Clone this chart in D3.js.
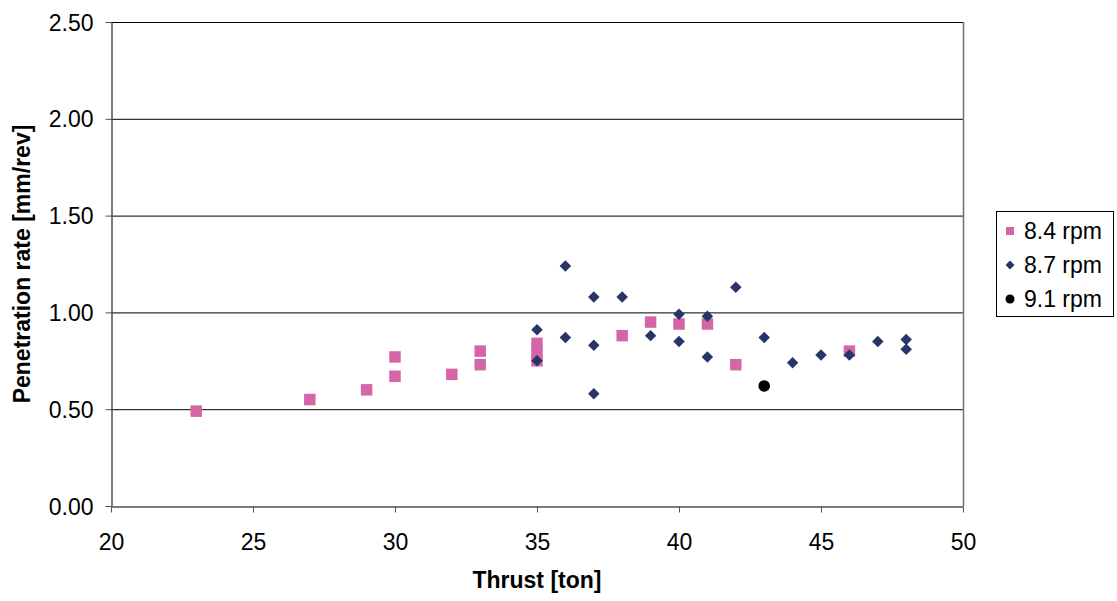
<!DOCTYPE html>
<html>
<head>
<meta charset="utf-8">
<script src="https://cdn.jsdelivr.net/npm/d3@7"></script>
<style>
  html, body { margin: 0; padding: 0; background: #fff; }
  svg { display: block; font-family: "Liberation Sans", Arial, sans-serif; }
</style>
</head>
<body>
<svg id="chart" width="1117" height="601"></svg>
<script>
// Thrust [ton] vs penetration rate [mm/rev], grouped by cutterhead speed
const rpm84Thrust = [23, 27, 29, 30, 30, 32, 33, 33, 35, 35, 35, 38, 39, 40, 41, 42, 46];
const rpm84Rate   = [0.49, 0.55, 0.60, 0.77, 0.67, 0.68, 0.80, 0.73, 0.84, 0.79, 0.75, 0.88, 0.95, 0.94, 0.94, 0.73, 0.80];

const rpm87Thrust = [35, 35, 36, 36, 37, 37, 37, 38, 39, 40, 40, 41, 41, 42, 43, 44, 45, 46, 47, 48, 48];
const rpm87Rate   = [0.91, 0.75, 1.24, 0.87, 1.08, 0.83, 0.58, 1.08, 0.88, 0.99, 0.85, 0.98, 0.77, 1.13, 0.87, 0.74, 0.78, 0.78, 0.85, 0.86, 0.81];

const rpm91Thrust = [43];
const rpm91Rate   = [0.62];

const xTicks = [20, 25, 30, 35, 40, 45, 50];
const yTicks = [0, 0.5, 1.0, 1.5, 2.0, 2.5];
const seriesNames = ["8.4 rpm", "8.7 rpm", "9.1 rpm"];

const colPink = "#D466A7";
const colNavy = "#283569";
const colBlack = "#000000";

const svg = d3.select("#chart");
const plotL = 111, plotR = 963, plotT = 22, plotB = 506;

const x = d3.scaleLinear().domain([20, 50]).range([plotL, plotR]);
const y = d3.scaleLinear().domain([0, 2.5]).range([plotB, plotT]);

// horizontal gridlines
svg.append("g").selectAll("line").data(yTicks.filter(d => d > 0)).join("line")
  .attr("x1", plotL).attr("x2", plotR)
  .attr("y1", d => y(d) + 0.5).attr("y2", d => y(d) + 0.5)
  .attr("stroke", "#000").attr("stroke-width", 1);

// right edge of plot area
svg.append("line")
  .attr("x1", plotR + 0.5).attr("x2", plotR + 0.5)
  .attr("y1", plotT).attr("y2", plotB)
  .attr("stroke", "#707070").attr("stroke-width", 1.5);

// axes
const xAxis = d3.axisBottom(x).tickValues(xTicks).tickFormat(d3.format("d")).tickSizeInner(6).tickSizeOuter(0).tickPadding(21);
const yAxis = d3.axisLeft(y).tickValues(yTicks).tickFormat(d3.format(".2f")).tickSizeInner(6).tickSizeOuter(0).tickPadding(12);

const gx = svg.append("g").attr("transform", `translate(0,${plotB + 0.5})`).call(xAxis);
const gy = svg.append("g").attr("transform", `translate(${plotL + 0.5},0)`).call(yAxis);

[gx, gy].forEach(g => {
  g.select(".domain").attr("stroke", "#505050").attr("stroke-width", 1.5);
  g.selectAll(".tick line").attr("stroke", "#505050");
  g.selectAll(".tick text").attr("fill", "#000").style("font-size", "23px")
    .style("font-family", "'Liberation Sans', Arial, sans-serif");
});
gy.selectAll(".tick text").attr("dy", "0.35em");

// axis titles
svg.append("text")
  .attr("x", 537).attr("y", 588)
  .attr("text-anchor", "middle")
  .style("font-size", "23px").style("font-weight", "bold")
  .text("Thrust [ton]");

svg.append("text")
  .attr("transform", `translate(30,${(plotT + plotB) / 2}) rotate(-90)`)
  .attr("text-anchor", "middle")
  .style("font-size", "23px").style("font-weight", "bold")
  .text("Penetration rate [mm/rev]");

// markers
const sq = d3.symbol().type(d3.symbolSquare).size(132);
const dm = d3.symbol().type(d3.symbolDiamond2).size(84);
const ci = d3.symbol().type(d3.symbolCircle).size(107);

const g84 = svg.append("g");
g84.selectAll("path").data(d3.zip(rpm84Thrust, rpm84Rate)).join("path")
  .attr("d", sq)
  .attr("transform", d => `translate(${x(d[0])},${y(d[1])})`)
  .attr("fill", colPink);

const g87 = svg.append("g");
g87.selectAll("path").data(d3.zip(rpm87Thrust, rpm87Rate)).join("path")
  .attr("d", dm)
  .attr("transform", d => `translate(${x(d[0])},${y(d[1])})`)
  .attr("fill", colNavy);

const g91 = svg.append("g");
g91.selectAll("path").data(d3.zip(rpm91Thrust, rpm91Rate)).join("path")
  .attr("d", ci)
  .attr("transform", d => `translate(${x(d[0])},${y(d[1])})`)
  .attr("fill", colBlack);

// legend
const legend = svg.append("g").attr("transform", "translate(996,211)");
legend.append("rect")
  .attr("x", 0.5).attr("y", 0.5).attr("width", 117).attr("height", 105)
  .attr("fill", "#fff").attr("stroke", "#000").attr("stroke-width", 1);

const legendSymbols = [
  { sym: d3.symbol().type(d3.symbolSquare).size(64), color: colPink },
  { sym: d3.symbol().type(d3.symbolDiamond2).size(50), color: colNavy },
  { sym: d3.symbol().type(d3.symbolCircle).size(64), color: colBlack }
];
seriesNames.forEach((name, i) => {
  const cy = 20 + i * 34;
  legend.append("path")
    .attr("d", legendSymbols[i].sym)
    .attr("transform", `translate(14,${cy})`)
    .attr("fill", legendSymbols[i].color);
  legend.append("text")
    .attr("x", 28).attr("y", cy).attr("dy", "0.35em")
    .style("font-size", "23px")
    .text(name);
});
</script>
</body>
</html>
